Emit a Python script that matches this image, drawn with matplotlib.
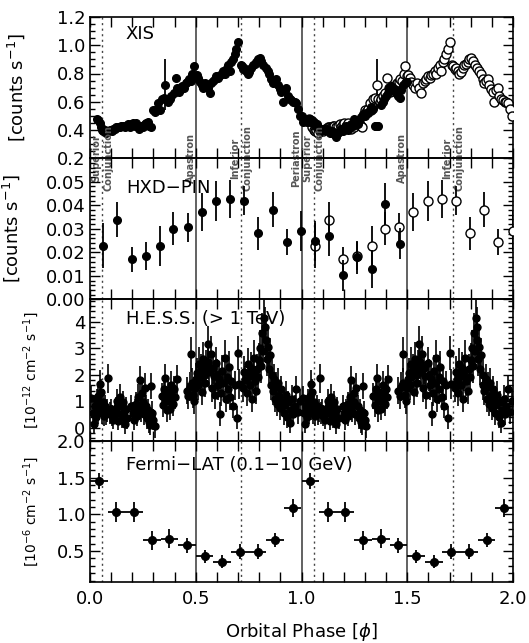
import numpy as np
import matplotlib.pyplot as plt
from matplotlib.ticker import MultipleLocator, FormatStrFormatter
import matplotlib.transforms as mtransforms

# --- XIS light curve, first orbit (repeated as open circles at +1) ---
xis_orbit1 = [
    (0.035, 0.48), (0.040, 0.47), (0.045, 0.45), (0.052, 0.42), (0.058, 0.40),
    (0.063, 0.39), (0.070, 0.40), (0.078, 0.38), (0.086, 0.39), (0.094, 0.40),
    (0.102, 0.39), (0.109, 0.41), (0.116, 0.41), (0.124, 0.42), (0.132, 0.42),
    (0.140, 0.42), (0.148, 0.43), (0.156, 0.43), (0.164, 0.42), (0.172, 0.43),
    (0.180, 0.44), (0.188, 0.42), (0.195, 0.44), (0.203, 0.45), (0.211, 0.43),
    (0.218, 0.45), (0.226, 0.42), (0.234, 0.41), (0.242, 0.43), (0.250, 0.42),
    (0.258, 0.44), (0.266, 0.45), (0.274, 0.46), (0.281, 0.43), (0.288, 0.42),
    (0.300, 0.54), (0.306, 0.53), (0.315, 0.55), (0.322, 0.59), (0.330, 0.54),
    (0.340, 0.62), (0.348, 0.63), (0.355, 0.72), (0.362, 0.62), (0.370, 0.60),
    (0.378, 0.62), (0.385, 0.64), (0.395, 0.66), (0.405, 0.77), (0.412, 0.70),
    (0.420, 0.67), (0.428, 0.69), (0.436, 0.71), (0.444, 0.70), (0.452, 0.73),
    (0.460, 0.74), (0.468, 0.76), (0.476, 0.75), (0.484, 0.80), (0.490, 0.85),
    (0.497, 0.78), (0.504, 0.79), (0.512, 0.77), (0.520, 0.74), (0.528, 0.72),
    (0.536, 0.70), (0.546, 0.73), (0.556, 0.70), (0.566, 0.66), (0.574, 0.73),
    (0.582, 0.75), (0.590, 0.76), (0.598, 0.78), (0.606, 0.77), (0.614, 0.79),
    (0.622, 0.80), (0.630, 0.82), (0.638, 0.80), (0.646, 0.84), (0.654, 0.86),
    (0.660, 0.82), (0.668, 0.88), (0.676, 0.90), (0.684, 0.94), (0.692, 0.97),
    (0.700, 1.02), (0.712, 0.86), (0.718, 0.85), (0.724, 0.83), (0.730, 0.84),
    (0.738, 0.82), (0.746, 0.80), (0.754, 0.81), (0.762, 0.84), (0.770, 0.86),
    (0.778, 0.87), (0.786, 0.88), (0.794, 0.90), (0.802, 0.91), (0.810, 0.89),
    (0.820, 0.86), (0.830, 0.84), (0.840, 0.82), (0.848, 0.80), (0.856, 0.76),
    (0.864, 0.73), (0.872, 0.75), (0.880, 0.76), (0.888, 0.72), (0.896, 0.69),
    (0.904, 0.67), (0.912, 0.60), (0.920, 0.68), (0.928, 0.70), (0.936, 0.64),
    (0.944, 0.62), (0.952, 0.61), (0.960, 0.60), (0.968, 0.60), (0.976, 0.59),
    (0.984, 0.55), (0.994, 0.50),
]
# continuation of the same observation into the next orbit (filled only)
xis_orbit2 = [
    (1.000, 0.50), (1.007, 0.46), (1.014, 0.47), (1.020, 0.47), (1.028, 0.46),
    (1.035, 0.48), (1.042, 0.46), (1.050, 0.47), (1.058, 0.46), (1.065, 0.43),
    (1.072, 0.44), (1.080, 0.42), (1.090, 0.39), (1.098, 0.40), (1.105, 0.41),
    (1.112, 0.40), (1.120, 0.41), (1.128, 0.39), (1.136, 0.38), (1.144, 0.39),
    (1.152, 0.37), (1.163, 0.35), (1.172, 0.38), (1.180, 0.40), (1.188, 0.41),
    (1.196, 0.39), (1.204, 0.41), (1.212, 0.43), (1.220, 0.40), (1.228, 0.42),
    (1.236, 0.44), (1.244, 0.43), (1.250, 0.48), (1.258, 0.45), (1.266, 0.44),
    (1.274, 0.47), (1.282, 0.49), (1.290, 0.51), (1.298, 0.50), (1.306, 0.52),
    (1.314, 0.52), (1.322, 0.54), (1.330, 0.56), (1.338, 0.55), (1.346, 0.43),
    (1.352, 0.43), (1.358, 0.43), (1.364, 0.43), (1.376, 0.58), (1.385, 0.60),
    (1.392, 0.62), (1.400, 0.64), (1.408, 0.66), (1.416, 0.70), (1.424, 0.71),
    (1.432, 0.69), (1.440, 0.68), (1.448, 0.66), (1.455, 0.64), (1.465, 0.63),
    (1.472, 0.68), (1.480, 0.72), (1.487, 0.73), (1.494, 0.74), (1.500, 0.74),
]
xis_err_default = 0.012
xis_big_err = {0.355: 0.18}

# --- HXD-PIN ---
hxd_phase1 = [0.063, 0.129, 0.197, 0.263, 0.331, 0.394, 0.462, 0.528,
              0.596, 0.662, 0.730, 0.796, 0.864, 0.930, 0.998]
hxd_rate1 = [0.0229, 0.0339, 0.0170, 0.0184, 0.0227, 0.0300, 0.0306, 0.0372,
             0.0418, 0.0427, 0.0420, 0.0282, 0.0382, 0.0245, 0.0289]
hxd_err1 = [0.0095, 0.0075, 0.0055, 0.0060, 0.0085, 0.0070, 0.0060, 0.0080,
            0.0085, 0.0080, 0.0060, 0.0070, 0.0075, 0.0055, 0.0085]
hxd_phase2 = [1.064, 1.130, 1.198, 1.264, 1.332, 1.397, 1.464]
hxd_rate2 = [0.0250, 0.0270, 0.0103, 0.0180, 0.0130, 0.0405, 0.0237]
hxd_err2 = [0.0085, 0.0085, 0.0065, 0.0070, 0.0080, 0.0090, 0.0065]

# --- H.E.S.S. (>1 TeV), one orbit (shown twice) ---
hess = [
    (0.005, 1.13, 0.45), (0.012, 0.55, 0.40), (0.018, 0.14, 0.35), (0.022, 0.80, 0.45),
    (0.027, 0.40, 0.40), (0.032, 0.95, 0.50), (0.036, 0.60, 0.45), (0.040, 1.20, 0.50),
    (0.044, 0.75, 0.45), (0.047, 1.64, 0.55), (0.052, 1.35, 0.50), (0.056, 0.55, 0.40),
    (0.060, 0.95, 0.45), (0.066, 0.45, 0.40), (0.071, 0.80, 0.45), (0.076, 0.50, 0.40),
    (0.082, 0.65, 0.45), (0.087, 1.87, 0.55), (0.093, 0.55, 0.40), (0.098, 0.70, 0.40),
    (0.104, 0.45, 0.40), (0.110, 0.30, 0.35), (0.116, 0.60, 0.40), (0.121, 0.75, 0.40),
    (0.126, 1.00, 0.45), (0.130, 0.55, 0.40), (0.134, 0.25, 0.35), (0.140, 1.15, 0.50),
    (0.145, 0.80, 0.45), (0.150, 0.40, 0.40), (0.155, 0.95, 0.45), (0.160, 0.60, 0.40),
    (0.164, 0.15, 0.40), (0.170, 0.70, 0.45), (0.176, 0.35, 0.40), (0.196, 0.80, 0.45),
    (0.202, 0.55, 0.40), (0.207, 0.30, 0.40), (0.212, 0.65, 0.45), (0.218, 0.90, 0.45),
    (0.222, 0.45, 0.40), (0.227, 1.15, 0.50), (0.232, 0.75, 0.45), (0.236, 1.80, 0.55),
    (0.241, 0.60, 0.40), (0.246, 1.30, 0.50), (0.250, 0.95, 0.45), (0.255, 0.50, 0.40),
    (0.260, 1.50, 0.55), (0.265, 0.80, 0.45), (0.270, 0.35, 0.40), (0.275, 0.65, 0.45),
    (0.280, 0.20, 0.40), (0.285, 0.10, 0.40), (0.290, 1.57, 0.50), (0.295, 0.55, 0.45),
    (0.300, 0.30, 0.40), (0.305, 0.05, 0.45), (0.340, 1.20, 0.50), (0.346, 0.85, 0.45),
    (0.350, 1.45, 0.50), (0.355, 1.87, 0.55), (0.360, 1.10, 0.45), (0.364, 0.65, 0.45),
    (0.368, 1.35, 0.50), (0.373, 1.00, 0.45), (0.378, 0.70, 0.40), (0.383, 1.60, 0.55),
    (0.388, 1.20, 0.50), (0.393, 0.90, 0.45), (0.398, 1.45, 0.50), (0.404, 1.15, 0.45),
    (0.410, 1.83, 0.55), (0.458, 1.40, 0.50), (0.465, 1.20, 0.50), (0.472, 1.55, 0.55),
    (0.478, 2.77, 0.65), (0.482, 1.70, 0.55), (0.487, 1.25, 0.50), (0.492, 1.00, 0.50),
    (0.497, 1.50, 0.55), (0.503, 1.85, 0.60), (0.508, 2.05, 0.60), (0.512, 1.60, 0.55),
    (0.516, 2.40, 0.65), (0.520, 1.90, 0.60), (0.525, 2.20, 0.60), (0.530, 1.35, 0.50),
    (0.535, 2.60, 0.65), (0.540, 2.00, 0.60), (0.545, 1.70, 0.55), (0.550, 2.35, 0.60),
    (0.556, 3.15, 0.70), (0.560, 2.50, 0.65), (0.565, 2.10, 0.60), (0.570, 2.80, 0.65),
    (0.575, 1.50, 0.55), (0.580, 2.25, 0.60), (0.585, 1.95, 0.55), (0.590, 1.25, 0.55),
    (0.596, 2.45, 0.60), (0.602, 2.00, 0.60), (0.607, 1.60, 0.55), (0.612, 1.85, 0.55),
    (0.616, 0.50, 0.45), (0.620, 1.30, 0.50), (0.625, 2.15, 0.60), (0.630, 1.70, 0.55),
    (0.636, 2.65, 0.65), (0.642, 1.10, 0.50), (0.648, 1.90, 0.60), (0.652, 1.45, 0.55),
    (0.657, 2.30, 0.60), (0.662, 1.15, 0.50), (0.668, 1.75, 0.55), (0.674, 0.80, 0.45),
    (0.684, 1.60, 0.55), (0.694, 0.38, 0.45), (0.700, 2.83, 0.65), (0.706, 1.65, 0.55),
    (0.725, 1.50, 0.55), (0.730, 2.10, 0.60), (0.735, 1.80, 0.55), (0.740, 1.30, 0.50),
    (0.745, 2.40, 0.60), (0.750, 1.95, 0.55), (0.755, 1.60, 0.55), (0.760, 2.25, 0.60),
    (0.765, 1.10, 0.50), (0.770, 2.00, 0.60), (0.775, 2.65, 0.65), (0.780, 1.75, 0.55),
    (0.785, 1.40, 0.50), (0.790, 2.20, 0.60), (0.795, 1.90, 0.55), (0.800, 2.55, 0.65),
    (0.805, 3.00, 0.70), (0.810, 2.35, 0.65), (0.815, 3.60, 0.75), (0.820, 2.90, 0.70),
    (0.824, 4.15, 0.80), (0.828, 3.80, 0.75), (0.832, 3.30, 0.70), (0.836, 2.60, 0.65),
    (0.840, 3.05, 0.70), (0.845, 2.20, 0.60), (0.850, 2.75, 0.65), (0.856, 1.60, 0.55),
    (0.860, 2.00, 0.60), (0.865, 1.40, 0.55), (0.870, 1.85, 0.55), (0.875, 1.10, 0.50),
    (0.880, 1.55, 0.55), (0.885, 0.90, 0.45), (0.890, 1.70, 0.55), (0.895, 1.20, 0.50),
    (0.900, 0.75, 0.45), (0.905, 1.45, 0.50), (0.910, 1.00, 0.45), (0.915, 0.55, 0.45),
    (0.920, 0.85, 0.45), (0.926, 1.25, 0.50), (0.932, 0.40, 0.40), (0.938, 0.95, 0.45),
    (0.944, 0.19, 0.40), (0.950, 0.65, 0.45), (0.956, 1.10, 0.50), (0.962, 0.50, 0.40),
    (0.968, 0.80, 0.45), (0.976, 1.45, 0.50), (0.985, 0.60, 0.45), (0.993, 1.00, 0.45),
]

# --- Fermi-LAT (0.1-10 GeV), 12 phase bins (shown twice) ---
fermi_phase = [0.042, 0.125, 0.208, 0.292, 0.375, 0.458,
               0.542, 0.625, 0.708, 0.792, 0.875, 0.958]
fermi_flux = [1.455, 1.03, 1.03, 0.65, 0.67, 0.58,
              0.43, 0.355, 0.49, 0.49, 0.65, 1.09]
fermi_err = [0.11, 0.14, 0.14, 0.13, 0.13, 0.10,
             0.09, 0.09, 0.10, 0.10, 0.10, 0.12]
fermi_binhalf = 1 / 24

# orbital markers (phase)
apastron = [0.5, 1.5]
periastron = [1.0]
sup_conj = [0.058, 1.058]
inf_conj = [0.716, 1.716]

plt.rcParams['font.family'] = 'DejaVu Sans'
plt.rcParams['font.size'] = 13

fig = plt.figure(figsize=(5.29, 6.43), dpi=100)
W, H = 529, 643
left, right = 90, 513
tops = [17, 158.25, 299.5, 440.75]
ph = 141.25
axes = []
for t in tops:
    ax = fig.add_axes([left / W, 1 - (t + ph) / H, (right - left) / W, ph / H])
    ax.set_facecolor('none')
    axes.append(ax)
ax_xis, ax_hxd, ax_hess, ax_fermi = axes

for ax in axes:
    ax.set_xlim(0, 2.0)
    ax.xaxis.set_major_locator(MultipleLocator(0.5))
    ax.xaxis.set_minor_locator(MultipleLocator(0.1))
    ax.tick_params(which='both', direction='in', top=True, right=True,
                   width=1.0, labelsize=13)
    ax.tick_params(which='major', length=7)
    ax.tick_params(which='minor', length=3.5)
    ax.tick_params(axis='x', which='minor', length=7)
    for s in ax.spines.values():
        s.set_linewidth(1.2)
    for x in apastron + periastron:
        ax.axvline(x, color='#555555', lw=1.3, zorder=1)
    for x in sup_conj + inf_conj:
        ax.axvline(x, color='#444444', lw=1.0, ls=(0, (1.5, 2.5)), zorder=1)
    if ax is not ax_fermi:
        ax.tick_params(axis='x', labelbottom=False)

eb = dict(fmt='o', color='black', ecolor='black', elinewidth=1.3, capsize=0)

# XIS
p1 = np.array([p for p, _ in xis_orbit1])
r1 = np.array([r for _, r in xis_orbit1])
e1 = np.array([xis_big_err.get(p, xis_err_default) for p in p1])
p2 = np.array([p for p, _ in xis_orbit2])
r2 = np.array([r for _, r in xis_orbit2])
ax_xis.errorbar(p1 + 1, r1, yerr=e1, mfc='white', mec='black', mew=1.0,
                ms=6.5, zorder=3, **eb)
ax_xis.errorbar(p1, r1, yerr=e1, ms=5.5, zorder=4, **eb)
ax_xis.errorbar(p2, r2, yerr=xis_err_default, ms=5.5, zorder=4, **eb)
ax_xis.set_ylim(0.2, 1.2)
ax_xis.yaxis.set_major_locator(MultipleLocator(0.2))
ax_xis.yaxis.set_minor_locator(MultipleLocator(0.05))
ax_xis.yaxis.set_major_formatter(FormatStrFormatter('%.1f'))
ax_xis.set_ylabel('[counts s$^{-1}$]', fontsize=13)
ax_xis.yaxis.set_label_coords(-0.15, 0.5)
ax_xis.text(0.085, 0.88, 'XIS', transform=ax_xis.transAxes, fontsize=13,
            va='center')

# HXD-PIN
ax_hxd.errorbar(np.array(hxd_phase1) + 1, hxd_rate1, yerr=hxd_err1,
                mfc='white', mec='black', mew=1.0, ms=6.5, zorder=3, **eb)
ax_hxd.errorbar(hxd_phase1, hxd_rate1, yerr=hxd_err1, ms=5.5, zorder=4, **eb)
ax_hxd.errorbar(hxd_phase2, hxd_rate2, yerr=hxd_err2, ms=5.5, zorder=4, **eb)
ax_hxd.set_ylim(0, 0.06)
ax_hxd.set_yticks([0.0, 0.01, 0.02, 0.03, 0.04, 0.05])
ax_hxd.yaxis.set_minor_locator(MultipleLocator(0.002))
ax_hxd.yaxis.set_major_formatter(FormatStrFormatter('%.2f'))
ax_hxd.set_ylabel('[counts s$^{-1}$]', fontsize=13)
ax_hxd.yaxis.set_label_coords(-0.16, 0.5)
ax_hxd.text(0.085, 0.79, 'HXD\u2212PIN', transform=ax_hxd.transAxes,
            fontsize=13, va='center')

# H.E.S.S.
hp = np.array([h[0] for h in hess])
hf = np.array([h[1] for h in hess])
he = np.array([h[2] for h in hess])
for shift in (0, 1):
    ax_hess.errorbar(hp + shift, hf, yerr=he, ms=5, elinewidth=1.2,
                     **{k: v for k, v in eb.items() if k != 'elinewidth'})
ax_hess.set_ylim(-0.5, 4.85)
ax_hess.yaxis.set_major_locator(MultipleLocator(1))
ax_hess.yaxis.set_minor_locator(MultipleLocator(0.2))
ax_hess.set_ylabel('[10$^{-12}$ cm$^{-2}$ s$^{-1}$]', fontsize=10)
ax_hess.yaxis.set_label_coords(-0.115, 0.5)
ax_hess.text(0.085, 0.86, 'H.E.S.S. (> 1 TeV)', transform=ax_hess.transAxes,
             fontsize=13, va='center')

# Fermi-LAT
for shift in (0, 1):
    ax_fermi.errorbar(np.array(fermi_phase) + shift, fermi_flux, yerr=fermi_err,
                      xerr=fermi_binhalf, ms=5.5, **eb)
ax_fermi.set_ylim(0.08, 2.0)
ax_fermi.yaxis.set_major_locator(MultipleLocator(0.5))
ax_fermi.yaxis.set_minor_locator(MultipleLocator(0.1))
ax_fermi.yaxis.set_major_formatter(FormatStrFormatter('%.1f'))
ax_fermi.set_ylabel('[10$^{-6}$ cm$^{-2}$ s$^{-1}$]', fontsize=10)
ax_fermi.yaxis.set_label_coords(-0.115, 0.5)
ax_fermi.text(0.085, 0.83, 'Fermi\u2212LAT (0.1\u221210 GeV)',
              transform=ax_fermi.transAxes, fontsize=13, va='center')
ax_fermi.xaxis.set_major_formatter(FormatStrFormatter('%.1f'))
ax_fermi.tick_params(axis='x', pad=6)
ax_fermi.set_xlabel('Orbital Phase [$\\phi$]', fontsize=13, labelpad=9)

# orbital position labels across the XIS / HXD boundary
trans = mtransforms.blended_transform_factory(ax_xis.transData, ax_xis.transAxes)
lab = dict(rotation=90, ha='center', va='center', fontsize=7, color='#555555',
           fontweight='bold', transform=trans, clip_on=False, zorder=10,
           multialignment='center', linespacing=1.3)
for x in sup_conj:
    ax_xis.text(x, 0.0, 'Superior\nConjunction', **lab)
for x in inf_conj:
    ax_xis.text(x, 0.0, 'Inferior\nConjunction', **lab)
for x in apastron:
    ax_xis.text(x - 0.025, 0.0, 'Apastron', **lab)
for x in periastron:
    ax_xis.text(x - 0.025, 0.0, 'Periastron', **lab)

fig.savefig('out.png', dpi=100)
